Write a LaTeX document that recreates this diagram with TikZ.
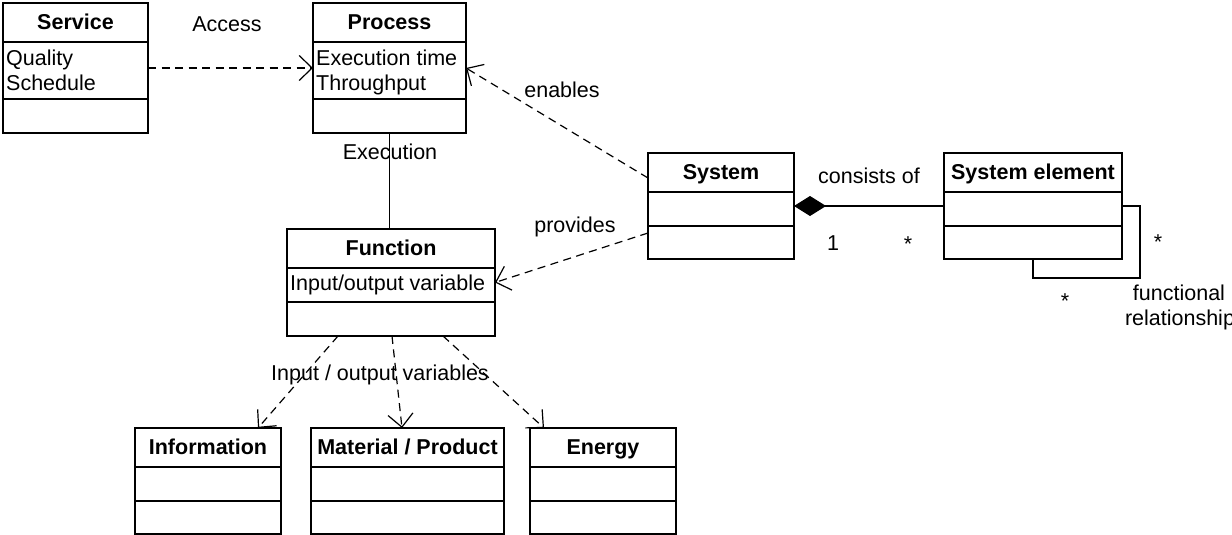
\documentclass[tikz,border=0pt]{standalone}
\usepackage{fontspec}
\setmainfont{Liberation Sans}
\usetikzlibrary{arrows.meta,fit}

\tikzset{
  classframe/.style={draw, line width=1.8pt, inner sep=0pt, outer sep=0pt},
  classline/.style={line width=1.8pt},
  titletext/.style={font=\fontsize{21.5}{24}\selectfont\bfseries, inner sep=0pt, anchor=base},
  attrtext/.style={font=\fontsize{21.5}{24}\selectfont, inner sep=0pt, anchor=base west},
  labeltext/.style={font=\fontsize{21.5}{24}\selectfont, inner sep=0pt, anchor=base},
  assoc/.style={line width=1.2pt},
  depend/.style={line width=1.2pt, dash pattern=on 8pt off 5.5pt,
    -{Straight Barb[length=13pt,width=25pt]}},
  compose/.style={line width=1.2pt, {Diamond[length=32pt,width=20pt]}-},
}

% UML class box: name, left, top, right, divider 1, divider 2, bottom, title baseline, title
\newcommand{\umlclass}[9]{%
  \node[classframe, fit={(#2,#3) (#4,#7)}] (#1) {};
  \draw[classline] (#2,#5) -- (#4,#5);
  \draw[classline] (#2,#6) -- (#4,#6);
  \node[titletext] (#1-title) at ({(#2+#4)/2},#8) {#9};
}

\begin{document}
\begin{tikzpicture}[x=1pt, y=-1pt]
\useasboundingbox (0,0) rectangle (1232,535);

% classes
\umlclass{service}{3}{3}{148}{42}{99}{133}{30}{Service}
\umlclass{process}{313}{3}{466}{42}{99}{133}{30}{Process}
\umlclass{function}{287}{229}{495}{268}{302}{336}{255}{Function}
\umlclass{system}{648}{153}{794}{192}{226}{259}{179}{System}
\umlclass{selement}{944}{153}{1122}{192}{226}{259}{179}{System element}
\umlclass{info}{135}{428}{281}{467}{501}{534}{454}{Information}
\umlclass{material}{311}{428}{504}{467}{501}{534}{454}{Material / Product}
\umlclass{energy}{530}{428}{676}{467}{501}{534}{454}{Energy}

% attributes
\node[attrtext] (srv-a1) at (6,66) {Quality};
\node[attrtext] (srv-a2) at (6,90) {Schedule};
\node[attrtext] (prc-a1) at (316,66) {Execution time};
\node[attrtext] (prc-a2) at (316,90) {Throughput};
\node[attrtext] (fun-a1) at (290,290) {Input/output variable};

% relations
\draw[depend] (service.east) -- (process.west);
\draw[depend] ([yshift=-25pt]system.north west) -- (process.east);
\draw[depend] ([yshift=-80pt]system.north west) -- (function.east);
\draw[assoc] (process.south) -- (process.south |- function.north);
\draw[compose] (system.east) -- (selement.west);
\draw[assoc] (selement.east) -- ++(18,0) |- ([yshift=-19pt]selement.south) -- (selement.south);
\draw[depend] ([xshift=51pt]function.south west) -- ([xshift=50pt]info.north);
\draw[depend] ([xshift=1pt]function.south) -- ([xshift=-5.5pt]material.north);
\draw[depend] ([xshift=52pt]function.south) -- ([xshift=-59pt]energy.north);

% relation labels
\node[labeltext] (lbl-access) at (227,32) {Access};
\node[labeltext] (lbl-exec) at (390,159) {Execution};
\node[labeltext] (lbl-enables) at (562,97) {enables};
\node[labeltext] (lbl-provides) at (575,232) {provides};
\node[labeltext] (lbl-consists) at (869,183) {consists of};
\node[labeltext] (lbl-one) at (833,250) {1};
\node[labeltext] (lbl-many1) at (908,251) {*};
\node[labeltext] (lbl-many2) at (1158,249) {*};
\node[labeltext] (lbl-many3) at (1065,308) {*};
\node[labeltext] (lbl-func1) at (1179,300) {functional};
\node[labeltext] (lbl-func2) at (1180,325) {relationship};
\node[labeltext] (lbl-io) at (380,380) {Input / output variables};
\end{tikzpicture}
\end{document}
